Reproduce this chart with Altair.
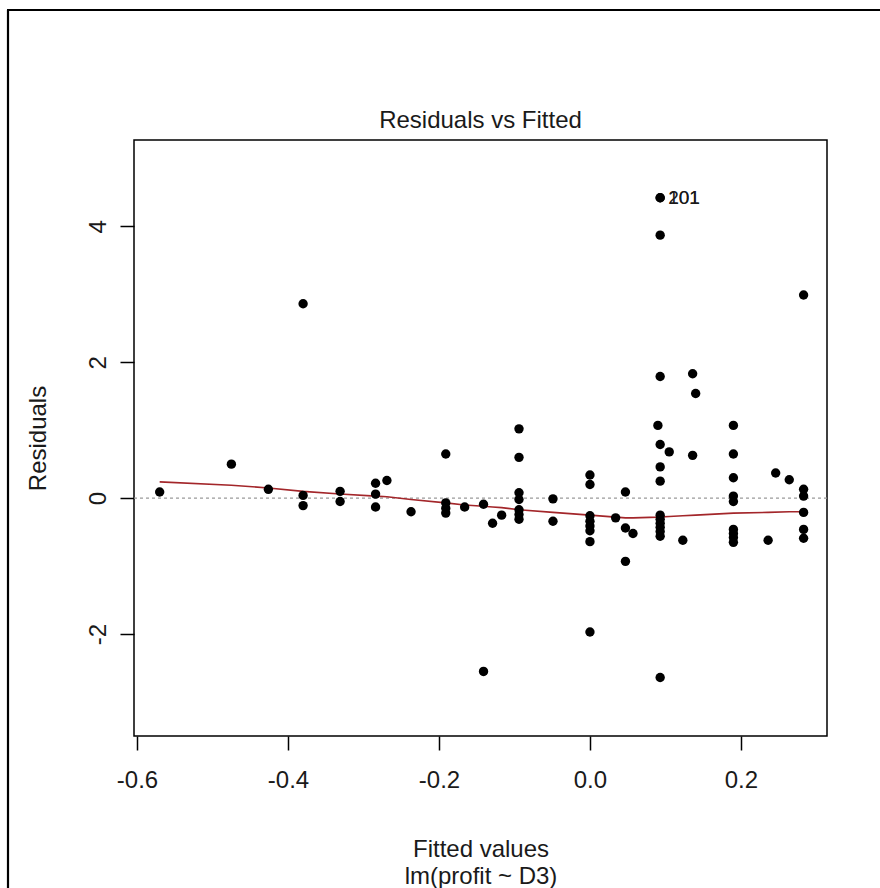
import altair as alt
import pandas as pd

# Fitted values and residuals of lm(profit ~ D3), grouped by fitted value
fitted = (
    [-0.570]
    + [-0.475]
    + [-0.426]
    + [-0.380] * 3
    + [-0.331] * 2
    + [-0.284] * 3
    + [-0.269]
    + [-0.237]
    + [-0.191] * 4
    + [-0.166]
    + [-0.141] * 2
    + [-0.129]
    + [-0.117]
    + [-0.094] * 7
    + [-0.049] * 2
    + [0.000] * 8
    + [0.034]
    + [0.047] * 3
    + [0.057]
    + [0.090]
    + [0.093] * 14
    + [0.105]
    + [0.123]
    + [0.136] * 2
    + [0.140]
    + [0.190] * 9
    + [0.236]
    + [0.246]
    + [0.264]
    + [0.283] * 6
)
resid = [
    0.09,
    0.50,
    0.13,
    2.86, 0.04, -0.11,
    0.10, -0.05,
    0.22, 0.06, -0.13,
    0.26,
    -0.20,
    0.65, -0.07, -0.15, -0.22,
    -0.13,
    -0.09, -2.55,
    -0.37,
    -0.25,
    1.02, 0.60, 0.08, -0.02, -0.17, -0.24, -0.31,
    -0.01, -0.34,
    0.34, 0.20, -0.26, -0.34, -0.41, -0.48, -0.64, -1.97,
    -0.29,
    0.09, -0.44, -0.93,
    -0.52,
    1.07,
    4.42, 4.42, 3.87, 1.79, 0.79, 0.46, 0.25, -0.25, -0.31, -0.37, -0.43, -0.49, -0.56, -2.64,
    0.68,
    -0.62,
    1.83, 0.63,
    1.54,
    1.07, 0.65, 0.30, 0.03, -0.05, -0.46, -0.52, -0.58, -0.65,
    -0.62,
    0.37,
    0.27,
    2.99, 0.13, 0.03, -0.21, -0.46, -0.59,
]

# lowess smoother through the residuals
smooth_x = [-0.570, -0.475, -0.426, -0.380, -0.331, -0.284, -0.269, -0.237, -0.191,
            -0.166, -0.141, -0.129, -0.117, -0.094, -0.049, 0.000, 0.034, 0.047,
            0.057, 0.090, 0.105, 0.123, 0.140, 0.190, 0.236, 0.264, 0.283]
smooth_y = [0.24, 0.19, 0.15, 0.10, 0.06, 0.03, 0.02, -0.02, -0.07,
            -0.10, -0.12, -0.13, -0.14, -0.17, -0.21, -0.25, -0.28, -0.29,
            -0.29, -0.28, -0.27, -0.26, -0.25, -0.22, -0.21, -0.20, -0.20]

# observations flagged by id
id_fitted = [0.093, 0.093]
id_resid = [4.42, 4.42]
id_label = ["101", "201"]

x_ticks = [-0.6, -0.4, -0.2, 0.0, 0.2]
y_ticks = [-2, 0, 2, 4]

FONT = "Liberation Sans"
TXT = "#1a1a1a"
W, H = 693, 596

pts_df = pd.DataFrame({"fitted": fitted, "resid": resid})
smooth_df = pd.DataFrame({"fitted": smooth_x, "resid": smooth_y})
id_df = pd.DataFrame({"fitted": id_fitted, "resid": id_resid, "label": id_label})
zero_df = pd.DataFrame({"resid": [0.0]})
title_df = pd.DataFrame({"caption": ["Residuals vs Fitted"]})

xs = alt.Scale(domain=[-0.604, 0.314], nice=False, zero=False)
ys = alt.Scale(domain=[-3.5, 5.27], nice=False, zero=False)

x_axis = alt.Axis(
    values=x_ticks,
    labelExpr="datum.value < 0 ? '-' + format(-datum.value, '.1f') : format(datum.value, '.1f')",
    title=["Fitted values", "lm(profit ~ D3)"],
    domain=False, grid=False,
    tickSize=14, tickWidth=1.5, tickColor="black",
    labelFont=FONT, labelFontSize=24, labelColor=TXT, labelPadding=18,
    labelBaseline="top",
    titleFont=FONT, titleFontSize=24, titleFontWeight="normal", titleColor=TXT,
    titleX=W / 2, titleY=101, titleBaseline="top", titleLineHeight=27,
)
y_axis = alt.Axis(
    values=y_ticks,
    labelExpr="datum.value < 0 ? '-' + format(-datum.value, 'd') : format(datum.value, 'd')",
    title="Residuals",
    domain=False, grid=False,
    tickSize=14, tickWidth=1.5, tickColor="black",
    labelFont=FONT, labelFontSize=24, labelColor=TXT, labelPadding=10,
    labelAngle=270, labelAlign="center", labelBaseline="bottom",
    titleFont=FONT, titleFontSize=24, titleFontWeight="normal", titleColor=TXT,
    titleX=-96, titleY=H / 2, titleAngle=270, titleAlign="center", titleBaseline="middle",
)

zero = alt.Chart(zero_df).mark_rule(color="#9a9a9a", strokeWidth=1.2, strokeDash=[3, 3]).encode(
    y=alt.Y("resid:Q", scale=ys, axis=y_axis)
)

points = alt.Chart(pts_df).mark_circle(color="black", size=88, opacity=1).encode(
    x=alt.X("fitted:Q", scale=xs, axis=x_axis),
    y=alt.Y("resid:Q", scale=ys),
)

smooth = alt.Chart(smooth_df).mark_line(color="#a3262a", strokeWidth=1.6).encode(
    x=alt.X("fitted:Q", scale=xs),
    y=alt.Y("resid:Q", scale=ys),
)

ids = alt.Chart(id_df).mark_text(
    align="left", baseline="middle", dx=8, font=FONT, fontSize=19, color=TXT
).encode(
    x=alt.X("fitted:Q", scale=xs),
    y=alt.Y("resid:Q", scale=ys),
    text="label:N",
)

# caption centred over the plotting region
caption = alt.Chart(title_df).mark_text(
    align="center", baseline="alphabetic", font=FONT, fontSize=24, color=TXT
).encode(
    x=alt.value(W / 2), y=alt.value(-12), text="caption:N"
)

# frame lines along the left and top edges of the picture
frame_left = alt.Chart(zero_df).mark_rule(color="black", strokeWidth=2.2).encode(
    x=alt.value(-126), y=alt.value(-130), y2=alt.value(748)
)
frame_top = alt.Chart(zero_df).mark_rule(color="black", strokeWidth=2.2).encode(
    x=alt.value(-127), x2=alt.value(746), y=alt.value(-130)
)

chart = (
    alt.layer(zero, smooth, points, ids, caption, frame_left, frame_top)
    .properties(
        width=W,
        height=H,
        autosize=alt.AutoSizeParams(type="none"),
        padding={"left": 134, "top": 140, "right": 53, "bottom": 152},
        background="white",
    )
    .configure_view(stroke="black", strokeWidth=1.5)
)

chart.save("out.html", embed_options={"renderer": "svg", "actions": False})
